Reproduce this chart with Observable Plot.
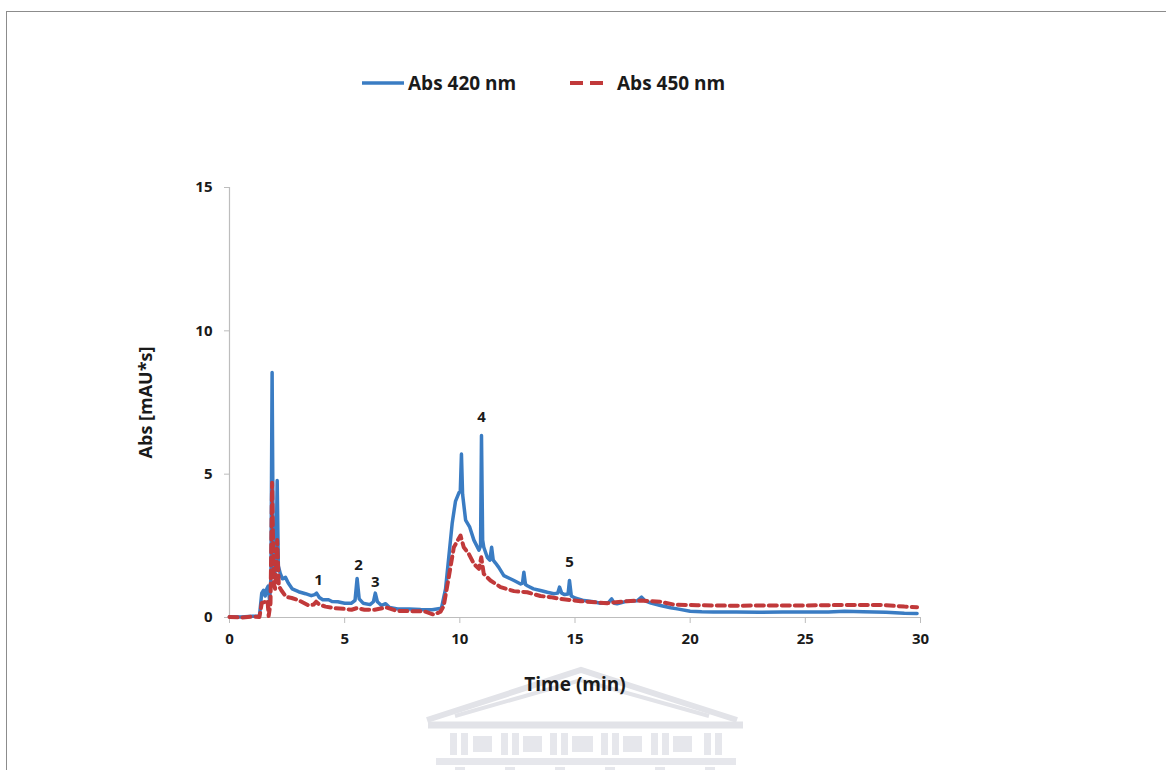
<!DOCTYPE html>
<html>
<head>
<meta charset="utf-8">
<script src="https://cdn.jsdelivr.net/npm/d3@7"></script>
<script src="https://cdn.jsdelivr.net/npm/@observablehq/plot@0.6"></script>
<style>
  html, body { margin: 0; padding: 0; background: #fff; }
  #wrap { position: relative; width: 1166px; height: 770px; overflow: hidden; font-family: "Open Sans", Lato, sans-serif; }
  #frame { position: absolute; left: 6px; top: 11px; width: 1200px; height: 800px; border-top: 1px solid #8c8c8c; border-left: 1px solid #8c8c8c; pointer-events: none; }
  #legend { position: relative; height: 120px; }
  .lg-text { position: absolute; top: 70px; font-size: 19px; font-weight: 700; color: #1a1a1a; line-height: 26px; white-space: nowrap; }
  .lg-sw { position: absolute; top: 80px; }
  #wm { position: absolute; left: 0; top: 0; z-index: 0; }
  #chart { position: relative; z-index: 1; }
  #chart svg { background: transparent !important; }
</style>
</head>
<body>
<div id="wrap">
  <svg id="wm" width="1166" height="770">
    <g fill="none" stroke="#e2e3e8" stroke-width="6">
      <path d="M427,720 L581,670 L737,720"/>
      <path d="M455,716 L581,680 L709,716" stroke-width="4"/>
      <line x1="428" y1="725" x2="743" y2="725" stroke-width="7"/>
    </g>
    <g fill="#e6e7ec">
      <rect x="450" y="733" width="7" height="22"/><rect x="461" y="733" width="7" height="22"/>
      <rect x="473" y="736" width="19" height="16"/>
      <rect x="501" y="733" width="7" height="22"/><rect x="512" y="733" width="7" height="22"/>
      <rect x="523" y="736" width="19" height="16"/>
      <rect x="550" y="733" width="7" height="22"/><rect x="561" y="733" width="7" height="22"/>
      <rect x="572" y="736" width="21" height="16"/>
      <rect x="601" y="733" width="7" height="22"/><rect x="612" y="733" width="7" height="22"/>
      <rect x="623" y="736" width="19" height="16"/>
      <rect x="651" y="733" width="7" height="22"/><rect x="662" y="733" width="7" height="22"/>
      <rect x="673" y="736" width="19" height="16"/>
      <rect x="704" y="733" width="7" height="22"/><rect x="715" y="733" width="7" height="22"/>
      <rect x="436" y="758" width="300" height="7"/>
      <rect x="455" y="767" width="10" height="6"/><rect x="505" y="767" width="10" height="6"/>
      <rect x="555" y="767" width="10" height="6"/><rect x="605" y="767" width="10" height="6"/>
      <rect x="655" y="767" width="10" height="6"/><rect x="705" y="767" width="10" height="6"/>
    </g>
  </svg>
  <div id="frame"></div>
  <div id="legend"></div>
  <div id="chart"></div>
</div>
<script>
// ---- data ----
const seriesNames = ["Abs 420 nm", "Abs 450 nm"];
const seriesColors = ["#3a7cc3", "#c1393a"];

const time420 = [0, 0.5, 1.0, 1.3, 1.4, 1.48, 1.55, 1.62, 1.68, 1.74, 1.8, 1.85, 1.9, 1.96, 2.02, 2.07, 2.12, 2.2, 2.3, 2.43, 2.55, 2.72, 3.0, 3.3, 3.55, 3.7, 3.78, 3.9, 4.05, 4.3, 4.45, 4.7, 5.0, 5.3, 5.45, 5.54, 5.63, 5.8, 6.1, 6.25, 6.33, 6.42, 6.6, 6.78, 6.95, 7.3, 7.8, 8.3, 8.8, 9.2, 9.38, 9.52, 9.67, 9.81, 9.96, 10.02, 10.07, 10.12, 10.25, 10.43, 10.61, 10.83, 10.9, 10.94, 10.99, 11.04, 11.19, 11.3, 11.38, 11.45, 11.55, 11.69, 11.91, 12.35, 12.64, 12.72, 12.78, 12.85, 12.95, 13.2, 13.5, 13.8, 14.08, 14.25, 14.33, 14.42, 14.55, 14.7, 14.76, 14.84, 15.0, 15.39, 15.8, 16.1, 16.45, 16.59, 16.7, 16.83, 17.27, 17.7, 17.89, 18.05, 18.3, 18.71, 19.15, 19.44, 20.0, 20.5, 21, 22, 23, 24, 25, 26, 26.7, 27.5, 28.5, 29.3, 29.85];
const abs420 = [0.03, 0.02, 0.04, 0.05, 0.85, 0.95, 0.75, 1.0, 1.1, 0.6, 1.4, 8.55, 2.0, 1.5, 1.8, 4.78, 1.8, 1.55, 1.35, 1.4, 1.2, 1.0, 0.9, 0.83, 0.76, 0.8, 0.85, 0.7, 0.62, 0.62, 0.56, 0.55, 0.5, 0.5, 0.6, 1.36, 0.65, 0.5, 0.45, 0.55, 0.85, 0.55, 0.42, 0.48, 0.35, 0.3, 0.3, 0.28, 0.27, 0.32, 1.0, 2.1, 3.3, 4.05, 4.35, 4.4, 5.7, 4.3, 3.4, 3.15, 2.7, 2.35, 2.5, 6.35, 2.7, 2.45, 2.1, 2.0, 2.45, 2.0, 1.9, 1.75, 1.46, 1.29, 1.17, 1.2, 1.58, 1.15, 1.1, 1.0, 0.94, 0.88, 0.83, 0.85, 1.06, 0.85, 0.8, 0.82, 1.29, 0.75, 0.68, 0.59, 0.55, 0.5, 0.52, 0.65, 0.5, 0.48, 0.57, 0.58, 0.71, 0.58, 0.5, 0.42, 0.34, 0.3, 0.22, 0.2, 0.19, 0.19, 0.18, 0.19, 0.19, 0.19, 0.22, 0.2, 0.18, 0.15, 0.14];

const time450 = [0, 0.5, 1.0, 1.3, 1.4, 1.55, 1.65, 1.7, 1.78, 1.85, 1.92, 1.98, 2.07, 2.14, 2.25, 2.45, 2.7, 3.0, 3.44, 3.65, 3.76, 3.9, 4.17, 4.6, 5.0, 5.3, 5.54, 5.86, 6.3, 6.8, 7.28, 8.0, 8.44, 8.87, 9.16, 9.3, 9.52, 9.74, 10.03, 10.17, 10.39, 10.61, 10.83, 10.93, 11.04, 11.33, 11.77, 12.35, 12.93, 13.5, 13.94, 14.37, 15.24, 16.4, 17.27, 17.85, 18.71, 19.3, 20.3, 21, 22, 23, 24, 25, 26, 27, 28, 28.5, 29.3, 29.85];
const abs450 = [0.02, 0.0, 0.03, 0.02, 0.5, 0.55, 0.6, 0.05, 0.5, 4.7, 1.2, 1.0, 2.7, 1.1, 0.95, 0.72, 0.68, 0.6, 0.42, 0.45, 0.55, 0.45, 0.38, 0.32, 0.3, 0.27, 0.33, 0.27, 0.27, 0.35, 0.23, 0.22, 0.22, 0.1, 0.2, 0.4, 1.41, 2.45, 2.86, 2.45, 2.22, 1.87, 1.7, 2.1, 1.52, 1.29, 1.06, 0.92, 0.88, 0.75, 0.71, 0.65, 0.57, 0.5, 0.57, 0.59, 0.55, 0.45, 0.43, 0.42, 0.41, 0.42, 0.42, 0.42, 0.43, 0.44, 0.44, 0.43, 0.38, 0.36];

const peakLabels = ["1", "2", "3", "4", "5"];
const peakTimes = [3.86, 5.6, 6.33, 10.94, 14.76];
const peakLabelY = [1.29, 1.81, 1.22, 6.98, 1.92];

const xTicks = [0, 5, 10, 15, 20, 25, 30];
const yTicks = [0, 5, 10, 15];
const xTitle = "Time (min)";
const yTitle = "Abs [mAU*s]";

// ---- build ----
const s420 = time420.map((t, i) => ({t, v: abs420[i]}));
const s450 = time450.map((t, i) => ({t, v: abs450[i]}));
const peaks = peakLabels.map((l, i) => ({l, t: peakTimes[i], v: peakLabelY[i]}));

// legend
const legend = document.getElementById("legend");
legend.innerHTML = `
  <svg class="lg-sw" style="left:362px" width="42" height="6"><line x1="0" y1="3" x2="42" y2="3" stroke="${seriesColors[0]}" stroke-width="3.5"/></svg>
  <div class="lg-text" style="left:408px">${seriesNames[0]}</div>
  <svg class="lg-sw" style="left:570px" width="34" height="6"><line x1="0" y1="3" x2="34" y2="3" stroke="${seriesColors[1]}" stroke-width="4" stroke-dasharray="13,7"/></svg>
  <div class="lg-text" style="left:617px">${seriesNames[1]}</div>
`;

const axisColor = "#bdbdbd";
const chart = Plot.plot({
  width: 1166,
  height: 650,
  marginLeft: 229,
  marginRight: 246,
  marginTop: 67,
  marginBottom: 153,
  style: {fontFamily: "'Open Sans', Lato, sans-serif", background: "transparent", color: "#1a1a1a"},
  x: {domain: [0, 30], ticks: xTicks},
  y: {domain: [0, 15], ticks: yTicks},
  marks: [
    Plot.ruleX([0], {stroke: axisColor, strokeWidth: 1.2}),
    Plot.ruleY([0], {stroke: axisColor, strokeWidth: 1.2}),
    Plot.axisX({ticks: xTicks, tickSize: 6, tickPadding: 10, stroke: axisColor, fontSize: 15, fontWeight: 700, label: null, tickFormat: d => String(d)}),
    Plot.axisY({ticks: yTicks, tickSize: 5, tickPadding: 12, stroke: axisColor, fontSize: 15, fontWeight: 700, label: null, tickFormat: d => String(d)}),
    Plot.line(s420, {x: "t", y: "v", stroke: seriesColors[0], strokeWidth: 3.5}),
    Plot.line(s450, {x: "t", y: "v", stroke: seriesColors[1], strokeWidth: 4, strokeDasharray: "8,5"}),
    Plot.text(peaks, {x: "t", y: "v", text: "l", fontSize: 15, fontWeight: 700, fill: "#1a1a1a"}),
    Plot.text([xTitle], {frameAnchor: "bottom", dy: 73, fontSize: 19, fontWeight: 700, fill: "#1a1a1a"}),
    Plot.text([yTitle], {frameAnchor: "left", textAnchor: "middle", dx: -83, rotate: -90, fontSize: 18, fontWeight: 700, fill: "#1a1a1a"})
  ]
});
document.getElementById("chart").appendChild(chart);
</script>
</body>
</html>
